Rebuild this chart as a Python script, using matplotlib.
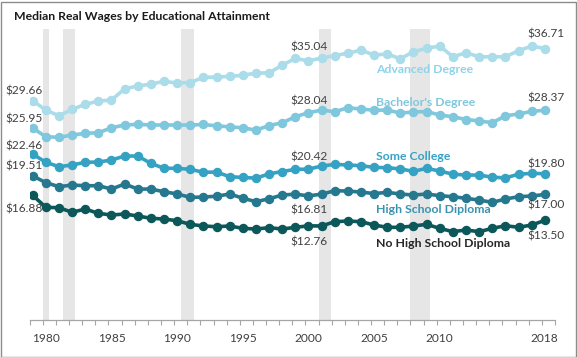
import matplotlib
matplotlib.use("Agg")
import matplotlib.pyplot as plt
from matplotlib.patches import Rectangle
import numpy as np

plt.rcParams['font.family'] = ['Lato', 'DejaVu Sans']

years = list(range(1979, 2019))

advanced = [29.66, 28.40, 27.63, 28.50, 29.17, 29.62, 29.75, 31.28, 31.64, 31.91,
            32.28, 32.05, 32.12, 32.82, 32.86, 32.95, 33.10, 33.40, 33.42, 34.46,
            35.38, 35.04, 35.43, 35.76, 36.08, 36.49, 35.83, 35.97, 35.33, 36.28,
            36.74, 37.05, 35.60, 36.14, 35.60, 35.60, 35.60, 36.41, 37.05, 36.71]
bachelor = [25.95, 24.80, 24.72, 25.03, 25.25, 25.34, 26.01, 26.38, 26.47, 26.38,
            26.38, 26.38, 26.38, 26.45, 26.27, 26.13, 26.01, 25.68, 26.31, 26.68,
            27.50, 28.04, 28.40, 28.17, 28.71, 28.54, 28.38, 28.40, 28.00, 28.13,
            28.20, 27.73, 27.50, 27.12, 26.94, 26.69, 27.62, 27.87, 28.22, 28.37]
some_college = [22.46, 21.34, 20.75, 20.98, 21.34, 21.38, 21.65, 22.19, 22.19, 21.20,
                20.53, 20.53, 20.39, 20.00, 20.02, 19.40, 19.30, 19.20, 19.78, 20.10,
                20.39, 20.42, 20.84, 21.06, 20.98, 20.88, 20.66, 20.61, 20.45, 20.12,
                20.53, 20.16, 19.74, 19.62, 19.62, 19.33, 19.24, 19.73, 19.85, 19.80]
hs_diploma = [19.51, 18.59, 18.05, 18.27, 18.18, 18.18, 17.73, 18.41, 17.73, 17.73,
              17.37, 17.06, 16.61, 16.65, 16.76, 17.06, 16.50, 16.02, 16.42, 16.92,
              17.04, 16.81, 17.04, 17.50, 17.46, 17.32, 17.12, 17.28, 17.06, 16.92,
              17.06, 16.83, 16.70, 16.47, 16.25, 15.93, 16.38, 16.70, 16.79, 17.00]
no_hs = [16.88, 15.26, 15.21, 14.59, 15.03, 14.45, 14.22, 14.36, 14.09, 13.78,
         13.68, 13.45, 12.96, 12.74, 12.64, 12.74, 12.42, 12.33, 12.51, 12.33,
         12.56, 12.76, 12.74, 13.32, 13.41, 13.32, 12.87, 12.56, 12.56, 12.74,
         12.96, 12.42, 11.97, 12.20, 11.97, 12.42, 12.78, 12.56, 12.87, 13.50]

series_names = ["Advanced Degree", "Bachelor's Degree", "Some College",
                "High School Diploma", "No High School Diploma"]
series_values = [advanced, bachelor, some_college, hs_diploma, no_hs]
line_colors = ["#aadcea", "#7fc7dd", "#36a2c3", "#26788f", "#0c5759"]
name_colors = ["#8fd3ea", "#7fc7dd", "#36a2c3", "#3a93b0", "#262626"]

# recessions (calendar years)
rec_start = [1980.0, 1981.55, 1990.5, 2001.0, 2008.0]
rec_end = [1980.45, 1982.45, 1991.5, 2001.95, 2009.5]

labeled_years = [1979, 2000, 2018]
tick_label_years = [1980, 1985, 1990, 1995, 2000, 2005, 2010, 2018]

# vertical label offsets (pixels, + is above) per series for each labeled year
label_dy = [[10, 14, 15], [9, 12, 12], [8, 12, 10], [10, -14, -11], [-14, -16, -16]]

W, H = 577, 357
fig = plt.figure(figsize=(W / 100, H / 100), dpi=100)

ax_left, ax_right, ax_top, ax_bottom = 29.7, 554.9, 29.0, 320.3
ax = fig.add_axes([ax_left / W, 1 - ax_bottom / H, (ax_right - ax_left) / W,
                   (ax_bottom - ax_top) / H])

offset = 0.23  # point position within year
xs = np.array(years) + offset

for s, e in zip(rec_start, rec_end):
    ax.axvspan(s, e, color="#e6e6e6", lw=0, zorder=0)

for vals, c in zip(series_values, line_colors):
    ax.plot(xs, vals, color=c, lw=2.6, marker="o", ms=5.8, mec=c, mfc=c,
            zorder=3, solid_capstyle="round")

ax.set_xlim(1979, 2019)
ax.set_ylim(0, 39.35)

pt = 0.72
for vals, dys in zip(series_values, label_dy):
    for yr, dy in zip(labeled_years, dys):
        i = years.index(yr)
        v = vals[i]
        txt = "${:.2f}".format(v)
        if yr == 1979:
            ax.annotate(txt, (xs[i], v), xytext=(10 * pt, dy * pt),
                        textcoords="offset points", ha="right", va="center",
                        fontsize=8.6, color="#404040", zorder=5)
        else:
            ax.annotate(txt, (xs[i], v), xytext=(1 * pt, dy * pt),
                        textcoords="offset points", ha="center", va="center",
                        fontsize=8.6, color="#404040", zorder=5)

name_x = 2005.37
name_y = [33.94, 29.48, 22.06, 14.90, 10.44]
for nm, ny, c in zip(series_names, name_y, name_colors):
    ax.text(name_x, ny, nm, color=c, fontsize=8.8, fontweight="bold",
            ha="left", va="center", zorder=6)

for sp in ["top", "right", "left"]:
    ax.spines[sp].set_visible(False)
ax.spines["bottom"].set_color("#a6a6a6")
ax.spines["bottom"].set_linewidth(0.9)
ax.set_yticks([])
ax.set_xticks(np.arange(1979, 2020, 1))
ax.set_xticklabels([])
ax.tick_params(axis="x", length=3.5, width=0.8, color="#a6a6a6", direction="out")
for yr in tick_label_years:
    ax.text(yr + offset, -0.062, str(yr), transform=ax.get_xaxis_transform(),
            ha="center", va="center", fontsize=8.6, color="#404040")

fig.text(14 / W, 1 - 16.5 / H, "Median Real Wages by Educational Attainment",
         fontsize=8.8, fontweight="bold", color="#1a1a1a", ha="left", va="center")

fig.patches.append(Rectangle((0.5 / W, 0.5 / H), (W - 1.5) / W, (H - 2) / H,
                             transform=fig.transFigure, fill=False,
                             edgecolor="#8c8c8c", lw=1.0))

fig.savefig("out.png", dpi=100)
